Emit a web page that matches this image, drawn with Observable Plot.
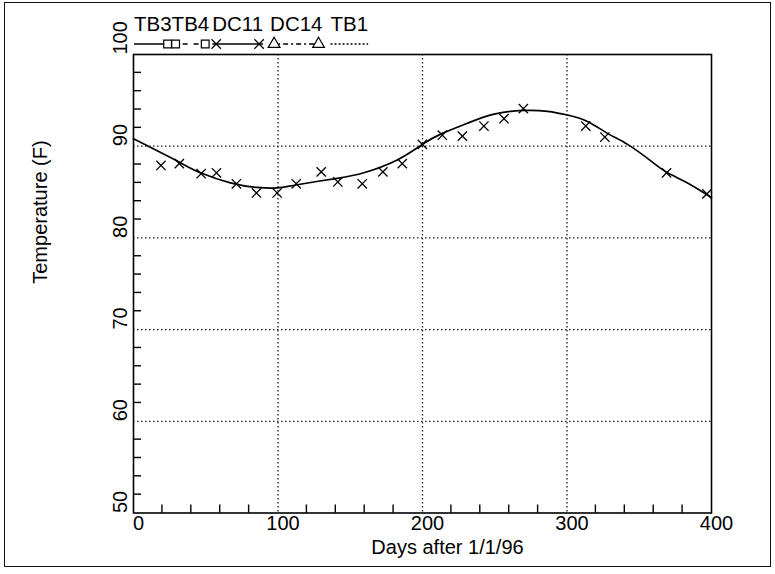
<!DOCTYPE html>
<html>
<head>
<meta charset="utf-8">
<script src="https://cdn.jsdelivr.net/npm/d3@7"></script>
<script src="https://cdn.jsdelivr.net/npm/@observablehq/plot@0.6"></script>
<style>
  body { margin: 0; background: #fff; }
  #chart { position: relative; width: 775px; height: 574px; background: #fff;
           font-family: "Liberation Sans", Arial, Helvetica, sans-serif; }
  #border { position: absolute; left: 4px; top: 2px; width: 767px; height: 565px;
            border: 1.5px solid #111; box-sizing: border-box; pointer-events: none; }
  #chart svg { position: absolute; left: 0; top: 0; overflow: visible; }
</style>
</head>
<body>
<div id="chart"><div id="border"></div></div>
<script>
// Measured temperatures (DC11), day of year after 1/1/96
const obsDays  = [19, 31.7, 46.8, 57.4, 71.2, 85.1, 99.4, 112.6, 129.9, 141.4, 158.3, 172.6,
                  186, 199.9, 213.7, 227.6, 242.5, 256.4, 269.8, 313, 326.2, 368.9, 396.8];
const obsTemps = [87.9, 88.1, 87.0, 87.1, 85.9, 84.9, 84.9, 85.9, 87.2, 86.1, 85.9, 87.2,
                  88.1, 90.2, 91.2, 91.1, 92.2, 93.0, 94.1, 92.2, 91.0, 87.1, 84.8];

// Smooth seasonal fit curve
const fitDays  = [0, 32.4, 46.3, 67.1, 85.6, 99.4, 113.3, 141, 159.4, 182.5, 199.9, 213.7,
                  231, 249.5, 270.2, 286.5, 300.3, 314.2, 328, 341.9, 358, 369.6, 383.4, 400];
const fitTemps = [90.8, 88.2, 87.1, 86.0, 85.5, 85.45, 85.8, 86.5, 87.1, 88.5, 90.2, 91.4,
                  92.5, 93.5, 93.9, 93.8, 93.4, 92.7, 91.4, 90.2, 88.4, 87.1, 86.0, 84.4];

// Axis ticks and gridlines
const xTicks = [0, 100, 200, 300, 400];
const yTicks = [50, 60, 70, 80, 90, 100];
const xGrid = [100, 200, 300];
const yGrid = [60, 70, 80, 90];
const xMinor = [20, 40, 60, 80, 120, 140, 160, 180, 220, 240, 260, 280, 320, 340, 360, 380];
const yMinor = [52, 54, 56, 58, 62, 64, 66, 68, 72, 74, 76, 78, 82, 84, 86, 88, 92, 94, 96, 98];

// Legend entries
const legendNames = ["TB3", "TB4", "DC11", "DC14", "TB1"];

const obs = obsDays.map((d, i) => ({day: d, temp: obsTemps[i]}));
const fit = fitDays.map((d, i) => ({day: d, temp: fitTemps[i]}));

const font = '"Liberation Sans", Arial, Helvetica, sans-serif';

const chart = Plot.plot({
  width: 775,
  height: 574,
  marginLeft: 133,
  marginRight: 64,
  marginTop: 54,
  marginBottom: 61.5,
  style: {fontFamily: font, fontSize: "20px", color: "#000", background: "transparent"},
  x: {domain: [0, 400]},
  y: {domain: [50, 100]},
  marks: [
    Plot.ruleX(xGrid, {stroke: "#222", strokeWidth: 1.3, strokeDasharray: "1.5,2.5"}),
    Plot.ruleY(yGrid, {stroke: "#222", strokeWidth: 1.3, strokeDasharray: "1.5,2.5"}),
    Plot.axisX(xTicks, {anchor: "bottom", tickSize: 0, tickPadding: 3, dx: 5, fontSize: 20, label: null}),
    Plot.axisY(yTicks, {anchor: "left", tickSize: 0, tickPadding: 13, rotate: -90, textAnchor: "start",
                        fontSize: 20, label: null}),
    Plot.frame({stroke: "#000", strokeWidth: 1.6}),
    Plot.line(fit, {x: "day", y: "temp", curve: "natural", stroke: "#000", strokeWidth: 1.7}),
    Plot.dot(obs, {x: "day", y: "temp", symbol: "times", r: 4.3, stroke: "#000", strokeWidth: 1.3}),
    Plot.text(["Days after 1/1/96"], {frameAnchor: "bottom", dx: 25, dy: 41, fontSize: 20, fill: "#000"}),
    Plot.text(["Temperature (F)"], {frameAnchor: "left", dx: -93, rotate: -90, fontSize: 20, fill: "#000"})
  ]
});
document.getElementById("chart").appendChild(chart);

// Inward-pointing minor ticks along the bottom and left frame edges, placed with the plot's scales
const TICK = 8;
const sx = chart.scale("x"), sy = chart.scale("y");
const tickLayer = d3.select(chart).append("g").attr("stroke", "#000").attr("stroke-width", 1.4);
tickLayer.selectAll("line.xt").data(xMinor).join("line")
  .attr("class", "xt")
  .attr("x1", d => sx.apply(d)).attr("x2", d => sx.apply(d))
  .attr("y1", sy.apply(50)).attr("y2", sy.apply(50) - TICK);
tickLayer.selectAll("line.yt").data(yMinor).join("line")
  .attr("class", "yt")
  .attr("x1", sx.apply(0)).attr("x2", sx.apply(0) + TICK)
  .attr("y1", d => sy.apply(d)).attr("y2", d => sy.apply(d));

// Line-style legend above the plot frame
const legendStyle = {
  TB3:  {dash: null,      marks: [null, d3.symbolSquare]},
  TB4:  {dash: "5,6",     marks: [d3.symbolSquare, d3.symbolSquare]},
  DC11: {dash: null,      marks: [d3.symbolTimes, d3.symbolTimes]},
  DC14: {dash: "5,3,2,3", marks: [d3.symbolTriangle, d3.symbolTriangle]},
  TB1:  {dash: "2,2",     marks: [null, null]}
};
const gaps = [0, 3, 7, 8, 0];
const legend = d3.select("#chart").append("svg")
  .attr("width", 775).attr("height", 54)
  .style("font-family", font);
let lx = 134;
legendNames.forEach((name, i) => {
  const t = legend.append("text").attr("x", lx).attr("y", 31)
    .attr("font-size", 20.5).attr("fill", "#000").text(name);
  const w = t.node().getComputedTextLength();
  const st = legendStyle[name];
  legend.append("line")
    .attr("x1", lx).attr("x2", lx + w).attr("y1", 44).attr("y2", 44)
    .attr("stroke", "#000").attr("stroke-width", 1.3)
    .attr("stroke-dasharray", st.dash);
  [lx + 4, lx + w - 4].forEach((mx, k) => {
    const sym = st.marks[k];
    if (!sym) return;
    legend.append("path")
      .attr("d", d3.symbol(sym, 60)())
      .attr("transform", `translate(${mx},44)`)
      .attr("fill", "#fff").attr("stroke", "#000").attr("stroke-width", 1.2);
  });
  lx += w + gaps[i];
});
</script>
</body>
</html>
